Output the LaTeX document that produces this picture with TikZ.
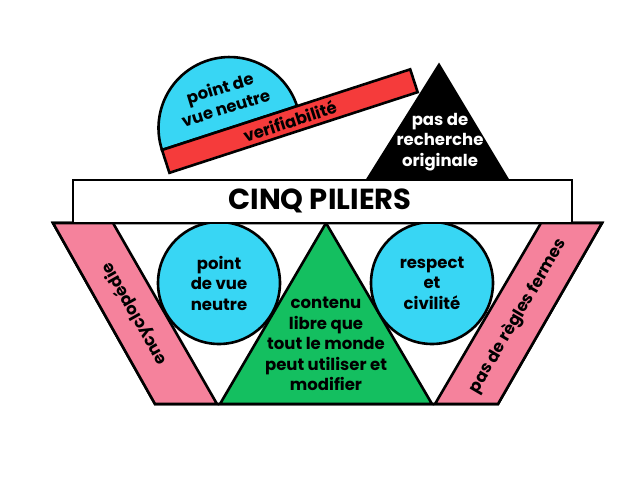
\documentclass[tikz,border=0pt]{standalone}
\usepackage{fontspec}
\setmainfont{Poppins}
\definecolor{cyanf}{HTML}{38D6F4}
\definecolor{redf}{HTML}{F53B3B}
\definecolor{greenf}{HTML}{14BF60}
\definecolor{pinkf}{HTML}{F5829C}
\begin{document}
\begin{tikzpicture}[x=1pt,y=-1pt, line width=2.6pt, line join=miter,
  lbl/.style={font=\bfseries\fontsize{16.5}{20.5}\selectfont, align=center, inner sep=0pt},
  bubble/.style={circle, draw=black, fill=cyanf, minimum size=122pt, inner sep=0pt, lbl}]
\useasboundingbox[fill=white] (0,0) rectangle (640,489);
% lower frame
\draw[fill=white] (53,223) -- (602,223) -- (498,404) -- (155,404) -- cycle;
\draw[fill=pinkf] (53,223) -- (113,223) -- (217,404) -- (155,404) -- cycle;
\draw[fill=pinkf] (541,223) -- (602,223) -- (498,404) -- (435,404) -- cycle;
\draw[fill=greenf] (326,223) -- (432,404) -- (220,404) -- cycle;
\node[bubble] (pvn) at (219,283) {point\\de vue\\neutre};
\node[bubble] (rec) at (432,283) {respect\\et\\civilité};
\node[lbl] (libre) at (326,344) {contenu\\libre que\\tout le monde\\peut utiliser et\\modifier};
\node[lbl, rotate=119.4] (enc) at (134.5,314) {encyclopédie};
\node[lbl, rotate=59.6] (regles) at (518,316) {pas de règles fermes};
% top part
\draw[fill=black] (439,65) -- (508,180) -- (367,180) -- cycle;
\node[lbl, text=white] (pdr) at (440,142) {pas de\\recherche\\originale};
\begin{scope}[shift={(162,150)}, rotate=18]
  \draw[fill=cyanf] (0,0) arc[start angle=180, end angle=0, radius=71pt] -- cycle;
  \node[lbl, rotate=17] (pvn2) at (74,-31) {point de\\vue neutre};
  \draw[fill=redf] (0,0) rectangle (261,24);
  \node[lbl, rotate=18] (ver) at (130.5,12) {verifiabilité};
\end{scope}
\draw[fill=white] (73,180) rectangle (572,223);
\node[font=\bfseries\fontsize{29}{33}\selectfont, inner sep=0pt] (title) at (320,201) {CINQ PILIERS};
\end{tikzpicture}
\end{document}
